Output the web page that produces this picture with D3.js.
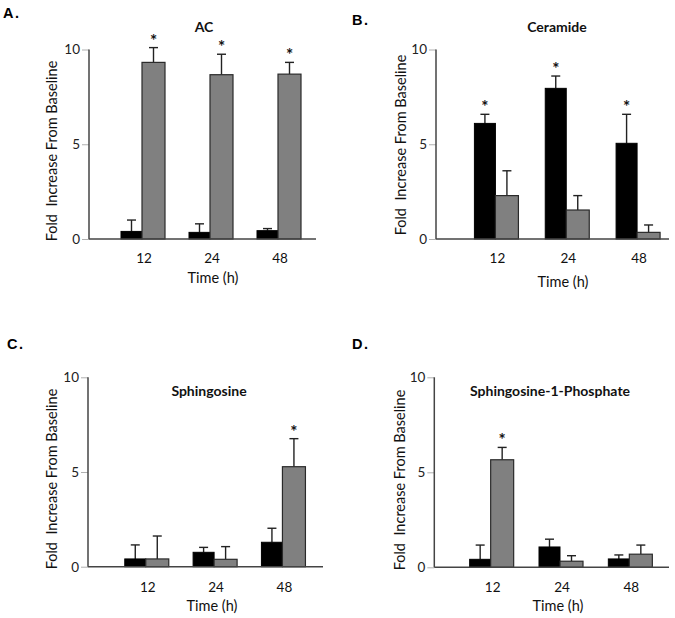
<!DOCTYPE html>
<html><head><meta charset="utf-8">
<script src="https://cdn.jsdelivr.net/npm/d3@7"></script>
<style>
html,body{margin:0;padding:0;background:#fff;}
svg{display:block;font-family:Lato,"Open Sans",sans-serif;}
</style></head>
<body>
<svg id="chart" width="675" height="618"></svg>
<script>
// ---- data ----
const times = ["12", "24", "48"];
const yTicks = [0, 5, 10];
const titles = ["AC", "Ceramide", "Sphingosine", "Sphingosine-1-Phosphate"];
const panelLetters = ["A.", "B.", "C.", "D."];

const acBlack = [0.40, 0.35, 0.44];
const acBlackErr = [0.60, 0.45, 0.11];
const acGray = [9.32, 8.67, 8.70];
const acGrayErr = [0.78, 1.08, 0.62];

const cerBlack = [6.10, 7.95, 5.05];
const cerBlackErr = [0.48, 0.65, 1.53];
const cerGray = [2.29, 1.53, 0.35];
const cerGrayErr = [1.31, 0.76, 0.39];

const sphBlack = [0.41, 0.76, 1.29];
const sphBlackErr = [0.74, 0.26, 0.74];
const sphGray = [0.41, 0.39, 5.28];
const sphGrayErr = [1.21, 0.67, 1.48];

const s1pBlack = [0.42, 1.07, 0.44];
const s1pBlackErr = [0.75, 0.41, 0.21];
const s1pGray = [5.66, 0.32, 0.69];
const s1pGrayErr = [0.65, 0.29, 0.48];

// significance markers: [series, index]
const acStars = [["gray", 0], ["gray", 1], ["gray", 2]];
const cerStars = [["black", 0], ["black", 1], ["black", 2]];
const sphStars = [["gray", 2]];
const s1pStars = [["gray", 0]];

// ---- layout (positions only) ----
const panels = [
  {black: acBlack, blackErr: acBlackErr, gray: acGray, grayErr: acGrayErr, stars: acStars,
   axisX: 89, axisEnd: 316, y0: 239, y10: 49.5, band: [108, 312],
   letter: [3, 18], titleXY: [204, 32], ylabXY: [52, 151], xlabXY: [213, 283], tickY: 263},
  {black: cerBlack, blackErr: cerBlackErr, gray: cerGray, grayErr: cerGrayErr, stars: cerStars,
   axisX: 436, axisEnd: 669, y0: 239, y10: 49.5, band: [460, 672.5],
   letter: [352, 25], titleXY: [557, 32], ylabXY: [401, 145], xlabXY: [563, 287], tickY: 263},
  {black: sphBlack, blackErr: sphBlackErr, gray: sphGray, grayErr: sphGrayErr, stars: sphStars,
   axisX: 88, axisEnd: 323, y0: 566.7, y10: 377.3, band: [111.6, 316.6],
   letter: [7, 349], titleXY: [209, 396], ylabXY: [52, 479], xlabXY: [212, 611], tickY: 592},
  {black: s1pBlack, blackErr: s1pBlackErr, gray: s1pGray, grayErr: s1pGrayErr, stars: s1pStars,
   axisX: 434.3, axisEnd: 669, y0: 567.3, y10: 377.3, band: [456, 664],
   letter: [352, 349], titleXY: [550, 396], ylabXY: [400, 480], xlabXY: [558, 611], tickY: 592}
];

const svg = d3.select("#chart");
const blackW = 21, grayW = 23;

panels.forEach((p, pi) => {
  const g = svg.append("g");
  const y = d3.scaleLinear().domain([0, 10]).range([p.y0, p.y10]);
  const x = d3.scaleBand().domain(times).range(p.band).padding(0);
  const cx = t => x(t) + x.bandwidth() / 2;

  // panel letter
  g.append("text").attr("x", p.letter[0]).attr("y", p.letter[1])
    .attr("font-family", "Liberation Sans, Arial, sans-serif").attr("font-weight", "bold")
    .attr("font-size", 14.5).attr("letter-spacing", 1.5).attr("fill", "#000").text(panelLetters[pi]);

  // title
  g.append("text").attr("x", p.titleXY[0]).attr("y", p.titleXY[1])
    .attr("text-anchor", "middle").attr("font-weight", "bold").attr("font-size", 14)
    .attr("fill", "#111").text(titles[pi]);

  // y axis
  const yAxis = d3.axisLeft(y).tickValues(yTicks).tickSize(7).tickPadding(2).tickFormat(d3.format("d"));
  const ya = g.append("g").attr("transform", `translate(${p.axisX},0)`).call(yAxis);
  ya.select(".domain").remove();
  ya.selectAll(".tick line").attr("stroke", "#b0b0b0").attr("stroke-width", 1);
  ya.selectAll(".tick text").attr("font-family", "Lato, sans-serif").attr("font-size", 13.5).attr("fill", "#222");
  g.append("line").attr("x1", p.axisX).attr("x2", p.axisX).attr("y1", y(10)).attr("y2", y(0))
    .attr("stroke", "#444").attr("stroke-width", 1.5);

  // y label
  g.append("text").attr("transform", `translate(${p.ylabXY[0]},${p.ylabXY[1]}) rotate(-90)`)
    .attr("text-anchor", "middle").attr("dy", "0.35em").attr("font-size", 14.5).attr("fill", "#111")
    .attr("xml:space", "preserve").style("white-space", "pre")
    .text("Fold  Increase From Baseline");

  // bars
  const blackData = times.map((t, i) => ({t, v: p.black[i], e: p.blackErr[i]}));
  const grayData = times.map((t, i) => ({t, v: p.gray[i], e: p.grayErr[i]}));

  // error bars (drawn first so bars sit on them)
  const errs = [];
  blackData.forEach(d => errs.push({x: cx(d.t) - blackW / 2, v: d.v, e: d.e}));
  grayData.forEach(d => errs.push({x: cx(d.t) + grayW / 2, v: d.v, e: d.e}));
  const eg = g.append("g").attr("stroke", "#222").attr("stroke-width", 1.4);
  errs.forEach(d => {
    eg.append("line").attr("x1", d.x).attr("x2", d.x).attr("y1", y(d.v)).attr("y2", y(d.v + d.e));
    eg.append("line").attr("x1", d.x - 4.5).attr("x2", d.x + 4.5).attr("y1", y(d.v + d.e)).attr("y2", y(d.v + d.e));
  });

  g.append("g").selectAll("rect").data(blackData).join("rect")
    .attr("x", d => cx(d.t) - blackW).attr("width", blackW)
    .attr("y", d => y(d.v)).attr("height", d => y(0) - y(d.v))
    .attr("fill", "#000").attr("stroke", "#000").attr("stroke-width", 1);
  g.append("g").selectAll("rect").data(grayData).join("rect")
    .attr("x", d => cx(d.t)).attr("width", grayW)
    .attr("y", d => y(d.v)).attr("height", d => y(0) - y(d.v))
    .attr("fill", "#808080").attr("stroke", "#2a2a2a").attr("stroke-width", 1.2);

  // stars
  const sg = g.append("g").attr("opacity", 0.999);
  p.stars.forEach(([s, i]) => {
    const v = s === "black" ? p.black[i] + p.blackErr[i] : p.gray[i] + p.grayErr[i];
    const sx = s === "black" ? cx(times[i]) - blackW / 2 : cx(times[i]) + grayW / 2;
    sg.append("text").attr("x", sx).attr("y", y(v) - 1).attr("text-anchor", "middle")
      .attr("font-size", 17).attr("font-weight", "bold").attr("fill", "#111").text("*");
  });

  // x axis line
  g.append("line").attr("x1", p.axisX).attr("x2", p.axisEnd).attr("y1", y(0)).attr("y2", y(0))
    .attr("stroke", "#444").attr("stroke-width", 1.5);

  // x tick labels
  g.append("g").selectAll("text").data(times).join("text")
    .attr("x", d => cx(d) + 2).attr("y", p.tickY).attr("text-anchor", "middle")
    .attr("font-size", 13.5).attr("fill", "#111").text(d => d);

  // x label
  g.append("text").attr("x", p.xlabXY[0]).attr("y", p.xlabXY[1]).attr("text-anchor", "middle")
    .attr("font-size", 14.5).attr("fill", "#111").text("Time (h)");
});
</script>
</body></html>
